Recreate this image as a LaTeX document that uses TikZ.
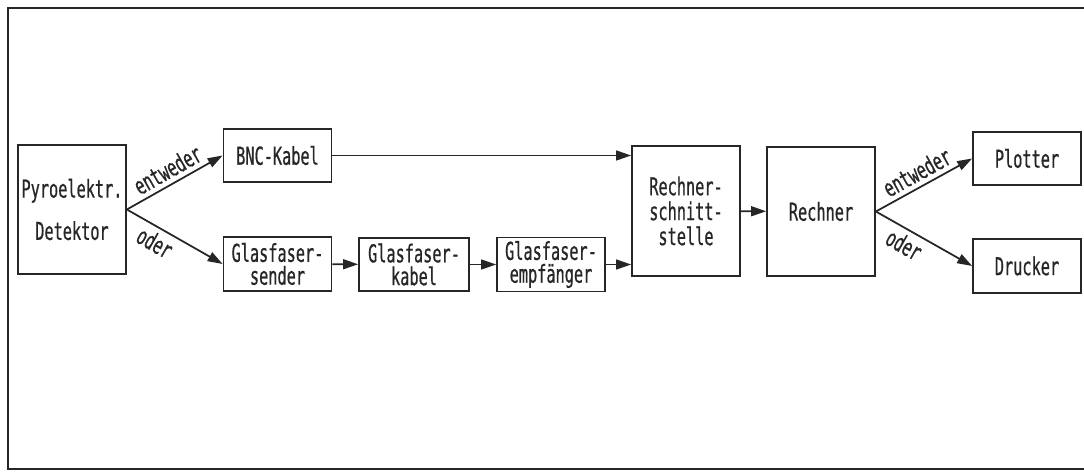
\documentclass[tikz,border=0pt]{standalone}
\usepackage{fontspec}
\setmainfont{DejaVu Sans Mono}[FakeStretch=0.62,FakeBold=0.6]
\usetikzlibrary{arrows.meta,positioning}
\usepackage{xcolor}
\definecolor{Ink}{HTML}{262626}
\newcommand{\plotfont}{\fontsize{14pt}{13pt}\selectfont}
\tikzset{
 block/.style={draw=Ink, line width=1pt, fill=white, minimum width=2.16cm, minimum height=1.07cm, align=center, inner sep=2pt, font=\plotfont, text=Ink},
 tallblock/.style={block, minimum height=2.59cm},
 arrow/.style={-{Triangle[length=8.5pt,width=5.6pt]}, line width=1pt, draw=Ink},
 choice/.style={font=\plotfont, text=Ink, sloped, inner sep=2.5pt}
}

\begin{document}
\begin{tikzpicture}[x=0.02cm,y=-0.02cm]
\useasboundingbox (0,0) rectangle (1084,472);
\draw[draw=Ink, line width=1pt] (1084,8) -- (8,8) -- (8,469) -- (1084,469);
% blocks
\node[tallblock] (pyro) at (72,209.5) {Pyroelektr.\\[9.5pt]Detektor};
\node[block] (bnc) at (277.5,155.5) {BNC-Kabel};
\node[block] (sender) at (277.5,264) {Glasfaser-\\sender};
\node[block, minimum width=2.2cm] (kabel) at (414,264.5) {Glasfaser-\\kabel};
\node[block] (empf) at (551,264.5) {Glasfaser-\\empfänger};
\node[tallblock] (rs) at (686,211) {Rechner-\\[1.2pt]schnitt-\\[1.2pt]stelle};
\node[tallblock] (rechner) at (821,211.5) {Rechner};
\node[block] (plotter) at (1027,158.5) {Plotter};
\node[block] (drucker) at (1027,266) {Drucker};
% connectors
\draw[arrow] (pyro.east) -- (bnc.west) node[choice, midway, above] {entweder};
\draw[arrow] (pyro.east) -- (sender.west) node[choice, pos=0.37, below] {oder};
\draw[arrow] (bnc.east) -- (bnc.east -| rs.west);
\draw[arrow] (sender) -- (kabel);
\draw[arrow] (kabel) -- (empf);
\draw[arrow] (empf.east) -- (empf.east -| rs.west);
\draw[arrow] (rs) -- (rechner);
\draw[arrow] (rechner.east) -- (plotter.west) node[choice, midway, above] {entweder};
\draw[arrow] (rechner.east) -- (drucker.west) node[choice, pos=0.37, below] {oder};
\end{tikzpicture}
\end{document}
